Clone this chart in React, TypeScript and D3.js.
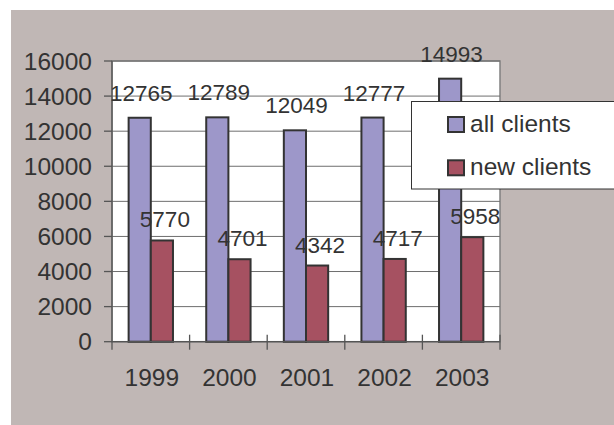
import React from "react";
import * as d3 from "d3";

const years = ["1999", "2000", "2001", "2002", "2003"];
const allClients = [12765, 12789, 12049, 12777, 14993];
const newClients = [5770, 4701, 4342, 4717, 5958];
const seriesNames = ["all clients", "new clients"];
const seriesColors = ["#9d97c9", "#a65161"];
const yTicks = [0, 2000, 4000, 6000, 8000, 10000, 12000, 14000, 16000];

const W = 614;
const H = 425;
const plot = { left: 112, right: 500, top: 61, bottom: 341.7 };
const FONT = "'Liberation Sans', Arial, sans-serif";
const TXT = "#333333";

export default function App() {
  const x0 = d3.scaleBand<string>().domain(years).range([plot.left, plot.right]).padding(0);
  const x1 = d3
    .scaleBand<string>()
    .domain(seriesNames)
    .range([0, x0.bandwidth()])
    .paddingInner(0)
    .paddingOuter(0.75);
  const y = d3.scaleLinear().domain([0, 16000]).range([plot.bottom, plot.top]);
  const series = [allClients, newClients];
  const labelOffset = [17, 13];
  const labelDx = [1.5, 3];

  return (
    <svg
      width={W}
      height={H}
      style={{ position: "absolute", left: 0, top: 0, background: "#ffffff" }}
      fontFamily={FONT}
    >
      <rect x={11} y={10} width={W - 11} height={H - 10} fill="#c0b7b5" />
      {/* plot area */}
      <rect
        x={plot.left}
        y={plot.top}
        width={plot.right - plot.left}
        height={plot.bottom - plot.top}
        fill="#ffffff"
        stroke="#808080"
        strokeWidth={1.5}
      />
      {/* gridlines */}
      {yTicks.map((t) => (
        <line
          key={"g" + t}
          x1={plot.left}
          x2={plot.right}
          y1={y(t)}
          y2={y(t)}
          stroke="#6e6e6e"
          strokeWidth={1}
        />
      ))}
      {/* y axis */}
      <line x1={plot.left} x2={plot.left} y1={plot.top} y2={plot.bottom + 8} stroke="#555" strokeWidth={1.3} />
      {yTicks.map((t) => (
        <g key={"yt" + t}>
          <line x1={plot.left - 8} x2={plot.left} y1={y(t)} y2={y(t)} stroke="#555" strokeWidth={1.3} />
          <text
            x={92}
            y={y(t)}
            dy="0.35em"
            textAnchor="end"
            fontSize={24.5}
            fill={TXT}
          >
            {t}
          </text>
        </g>
      ))}
      {/* bars */}
      {years.map((yr, i) => (
        <g key={"grp" + yr}>
          {series.map((vals, s) => {
            const bx = (x0(yr) as number) + (x1(seriesNames[s]) as number);
            const bw = x1.bandwidth();
            return (
              <rect
                key={"b" + s}
                x={bx}
                y={y(vals[i])}
                width={bw}
                height={y(0) - y(vals[i])}
                fill={seriesColors[s]}
                stroke="#333333"
                strokeWidth={2}
              />
            );
          })}
        </g>
      ))}
      {/* x axis */}
      <line x1={plot.left} x2={plot.right} y1={plot.bottom} y2={plot.bottom} stroke="#555" strokeWidth={1.3} />
      {years.map((yr) => (
        <line
          key={"xt" + yr}
          x1={(x0(yr) as number) + x0.bandwidth()}
          x2={(x0(yr) as number) + x0.bandwidth()}
          y1={plot.bottom - 7}
          y2={plot.bottom + 8}
          stroke="#555"
          strokeWidth={1.3}
        />
      ))}
      {years.map((yr) => (
        <text
          key={"xl" + yr}
          x={(x0(yr) as number) + x0.bandwidth() / 2 + 1}
          y={386}
          textAnchor="middle"
          fontSize={24.5}
          fill={TXT}
        >
          {yr}
        </text>
      ))}
      {/* data labels */}
      {years.map((yr, i) => (
        <g key={"dl" + yr}>
          {series.map((vals, s) => {
            const bx = (x0(yr) as number) + (x1(seriesNames[s]) as number) + x1.bandwidth() / 2;
            return (
              <text
                key={"l" + s}
                x={bx + labelDx[s]}
                y={y(vals[i]) - labelOffset[s]}
                textAnchor="middle"
                fontSize={22.5}
                fill={TXT}
              >
                {vals[i]}
              </text>
            );
          })}
        </g>
      ))}
      {/* legend */}
      <rect x={411.5} y={101.5} width={220} height={87.5} fill="#ffffff" stroke="#333333" strokeWidth={1} />
      {seriesNames.map((name, s) => (
        <g key={"lg" + s} transform={`translate(448, ${117 + s * 43.3})`}>
          <rect x={0} y={0} width={16} height={15} fill={seriesColors[s]} stroke="#333333" strokeWidth={2} />
          <text x={22} y={15} fontSize={24.5} fill={TXT}>
            {name}
          </text>
        </g>
      ))}
    </svg>
  );
}
